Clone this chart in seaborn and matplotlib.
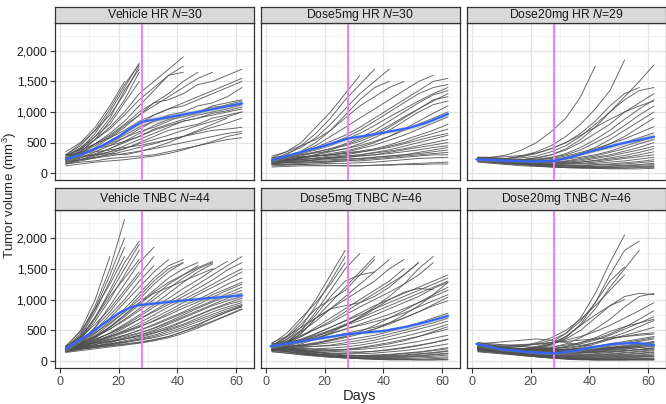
import numpy as np
import pandas as pd
import matplotlib
matplotlib.use('Agg')
import matplotlib.pyplot as plt
import seaborn as sns
from matplotlib.ticker import FuncFormatter, MultipleLocator

sns.set_style("white")
plt.rcParams['font.family'] = ['Liberation Sans', 'DejaVu Sans']
plt.rcParams['mathtext.fontset'] = 'custom'
plt.rcParams['mathtext.rm'] = 'Liberation Sans'
plt.rcParams['mathtext.it'] = 'Liberation Sans:italic'

# measurement days (every mouse starts at day 2, some stop early)
days = [2, 7, 12, 17, 22, 27, 32, 37, 42, 47, 52, 57, 62]

panel_titles = ['Vehicle HR', 'Dose5mg HR', 'Dose20mg HR',
                'Vehicle TNBC', 'Dose5mg TNBC', 'Dose20mg TNBC']
panel_n = [30, 30, 29, 44, 46, 46]

# one string per mouse, tumour volume in units of 10 mm3 on the days above
vehicle_hr = [
    "25 40 65 100 140 180",
    "30 45 70 95 130 175",
    "20 35 55 85 120 165",
    "28 42 60 90 135 170",
    "35 50 75 110 150",
    "22 38 60 80 115 150",
    "30 48 70 105 145 178",
    "25 35 55 75 100 130 150 170 190",
    "20 32 48 65 85 110 135 160 175",
    "28 40 55 72 95 120 140 160 165",
    "18 28 42 58 75 95 115 130 150 165",
    "22 33 45 60 78 95 110 125 140 155 165",
    "25 35 48 62 80 100 115 120 130 145 150 160 170",
    "20 28 38 50 65 80 95 105 115 125 135 145 155",
    "30 38 48 58 70 85 95 105 110 120 130 140 150",
    "18 25 35 45 58 72 85 95 100 110 115 125 140",
    "22 30 40 50 62 75 85 90 95 100 110 115 120",
    "15 22 30 40 52 65 78 88 92 98 105 112 118",
    "25 32 40 48 58 68 75 85 95 100 108 110 115",
    "20 25 32 40 50 60 72 80 88 95 100 105 112",
    "17 22 28 35 45 55 65 75 85 90 95 100 105",
    "28 34 40 45 52 60 70 78 85 90 98 102 108",
    "15 20 25 32 40 50 60 70 75 80 90 95 100",
    "22 26 30 35 40 48 55 62 70 78 85 92 100",
    "18 22 26 30 36 42 48 55 60 68 75 82 90",
    "30 32 35 38 42 45 50 55 60 65 70 72 75",
    "20 22 25 28 32 36 40 45 50 55 60 65 68",
    "15 18 20 24 26 28 30 35 40 45 50 55 58",
    "25 28 30 32 30 35 42 50 60 70 80 90",
    "12 15 18 20 22 25 28 32 38 45 52 60 65",
]

dose5_hr = [
    "25 35 50 75 100 130 160",
    "20 30 45 65 90 120 145 170",
    "22 32 42 58 80 105 130 150 170",
    "28 35 45 55 70 90 110 125 140 150",
    "20 25 35 45 60 75 90 105 120 135 150 160",
    "18 24 32 42 52 62 75 90 105 120 135 150 155",
    "22 28 34 40 48 58 70 85 100 115 130 140 145",
    "25 28 32 38 45 55 65 78 92 105 118 130 140",
    "20 24 28 34 40 48 58 70 85 100 115 128 135",
    "15 20 25 30 38 46 55 65 78 92 105 118 130",
    "22 26 30 35 40 45 52 62 75 90 105 120 125",
    "18 22 26 30 35 40 48 58 70 85 100 112 118",
    "25 28 30 33 36 40 45 52 60 72 85 98 110",
    "20 22 25 28 32 36 42 50 60 70 80 90 100",
    "16 20 24 28 30 34 40 46 54 62 72 82 92",
    "22 24 26 28 30 33 36 40 46 54 62 70 80",
    "18 20 22 25 28 30 34 38 44 50 58 65 72",
    "25 26 27 28 30 32 35 38 42 48 54 60 65",
    "15 17 19 22 25 28 30 34 38 44 50 56 62",
    "20 21 22 24 26 28 30 33 36 40 45 50 55",
    "18 19 20 22 24 25 28 30 34 38 42 46 50",
    "22 22 23 24 25 26 28 30 32 35 38 42 45",
    "16 17 18 19 20 22 24 26 28 30 34 38 42",
    "20 20 20 21 22 23 24 26 28 30 32 35 38",
    "14 15 16 17 18 20 22 24 26 28 30 32 34",
    "18 18 18 18 19 20 20 22 24 26 28 30 30",
    "12 13 14 15 16 16 17 18 20 22 24 25 26",
    "15 14 14 13 13 12 12 13 14 15 16 17 18",
    "10 11 12 12 12 12 12 13 13 14 14 15 15",
    "20 26 36 50 70 95 120 140 150",
]

dose20_hr = [
    "25 26 30 38 50 68 90 125 175",
    "22 22 24 28 35 45 60 80 105 135 185",
    "24 23 22 22 25 30 40 55 75 100 125 150 177",
    "26 25 24 25 28 35 45 60 80 100 120 135 140",
    "20 20 20 22 25 30 38 50 65 80 100 115 130",
    "23 22 21 21 22 25 32 42 55 70 88 105 120",
    "25 24 22 22 23 26 30 38 50 62 78 95 110",
    "21 20 19 19 20 22 26 32 42 55 70 85 100",
    "24 22 20 19 19 21 24 30 38 48 60 75 90",
    "22 21 20 20 21 24 28 34 40 48 56 66 76",
    "20 19 18 17 18 20 24 30 36 42 50 58 66",
    "25 23 21 20 20 21 23 26 30 36 44 52 60",
    "22 20 18 17 17 18 20 24 28 34 40 48 55",
    "19 18 17 16 16 17 19 22 26 30 36 42 50",
    "23 21 19 18 17 17 18 20 24 28 33 38 44",
    "21 19 17 16 15 15 16 18 21 25 29 34 40",
    "26 24 22 20 18 17 17 18 20 23 26 30 35",
    "20 18 16 15 14 14 15 16 18 21 24 27 30",
    "24 22 20 18 16 15 15 15 16 18 20 23 26",
    "22 20 18 16 15 14 13 13 14 15 17 19 22",
    "19 17 15 14 13 12 12 12 13 14 15 17 19",
    "23 21 19 17 15 13 12 11 11 12 13 14 16",
    "20 18 16 14 12 11 10 10 10 11 12 13 14",
    "25 22 19 17 15 13 12 11 10 10 10 11 12",
    "18 16 14 12 11 10 9 9 9 9 10 10 11",
    "22 19 16 14 12 10 9 8 8 8 8 9 9",
    "24 21 18 15 13 11 10 9 8 7 7 7 8",
    "21 22 24 27 32 40 50 62 75 88 100 110 118",
    "26 26 27 29 33 40 50 65 85 110 130 140",
]

vehicle_tnbc = [
    "20 45 90 150 230",
    "18 40 80 130 185",
    "22 50 100 170",
    "20 42 85 140 200",
    "15 35 70 115 160 195",
    "25 48 85 125 170",
    "18 38 72 110 150 190",
    "20 35 65 100 140 180",
    "22 40 70 105 135 165",
    "16 30 55 90 125 160 185",
    "20 32 55 80 110 140 170",
    "24 38 60 85 115 145",
    "18 30 50 75 100 130 155",
    "20 30 48 70 95 120 145 165",
    "15 28 45 65 85 110 135 155 165",
    "22 32 46 62 80 100 125 145 160",
    "18 26 40 56 75 95 115 135 150 160",
    "20 28 38 52 68 85 105 125 140 155",
    "24 30 40 52 66 82 100 118 135 150 160",
    "16 24 34 46 60 75 92 110 128 145 158",
    "20 26 35 45 58 72 88 102 118 132 148 162",
    "18 24 32 42 54 68 82 96 110 125 140 155 170",
    "22 28 36 45 56 68 80 92 105 118 132 148 160",
    "15 22 30 40 50 62 75 88 100 112 125 138 150",
    "20 25 32 40 48 58 70 82 95 108 120 132 145",
    "18 23 30 38 46 55 66 78 90 100 112 125 135",
    "24 28 34 40 48 56 65 75 86 96 108 118 128",
    "16 21 27 34 42 50 60 70 80 92 104 115 125",
    "20 24 30 36 42 50 58 68 78 88 98 110 120",
    "18 22 27 32 38 45 54 64 75 86 96 106 115",
    "22 26 30 35 40 46 53 62 72 82 92 102 110",
    "15 19 24 30 36 42 50 60 70 80 90 98 105",
    "20 23 27 31 36 42 48 56 65 75 85 94 102",
    "17 20 24 28 33 38 45 54 64 74 84 92 98",
    "23 26 29 32 36 40 46 52 60 70 80 88 95",
    "19 21 24 27 31 36 42 50 58 67 76 85 92",
    "16 19 22 26 30 35 40 47 55 64 73 82 90",
    "21 23 25 28 31 34 38 44 52 60 70 80 88",
    "18 20 22 25 28 31 35 40 48 56 65 75 85",
    "14 17 20 23 26 29 33 38 45 54 64 74 84",
    "20 21 23 25 27 30 34 40 48 58 70 80 90",
    "25 30 40 55 75 95 110 120 130 140 150",
    "20 28 42 60 80 105 130 150 160",
    "17 25 38 55 72 92 112 128 140 152 162",
]

dose5_tnbc = [
    "25 40 65 100 140 180",
    "22 35 55 90 130 170",
    "28 45 70 95 125 160",
    "20 30 50 80 115 150 175",
    "25 38 60 85 100 115 140 165",
    "18 28 45 70 95 120 145 170",
    "22 32 48 65 85 105 125 145 165",
    "30 40 55 70 85 100 115 130 150 165",
    "20 28 40 55 70 85 100 115 130 150",
    "24 30 40 52 65 80 95 110 125 140 160",
    "26 32 42 52 62 75 88 100 112 125 140 160",
    "20 26 34 44 55 66 78 90 100 110 120 130 140",
    "22 28 36 45 55 65 75 85 95 105 115 125 135",
    "18 24 32 40 50 60 70 80 90 100 110 120 130",
    "25 30 35 42 50 58 66 75 85 95 105 118 128",
    "20 25 30 36 44 52 60 68 76 85 95 105 115",
    "23 27 32 38 45 52 58 64 70 78 88 98 108",
    "17 20 24 28 34 40 48 58 70 82 95 108 120",
    "28 30 33 36 40 45 50 55 62 70 80 92 104",
    "21 23 26 30 35 40 46 52 60 70 80 90 98",
    "24 24 25 27 30 34 38 42 48 55 62 70 78",
    "19 20 22 24 26 30 34 38 44 50 56 62 70",
    "26 25 24 24 25 27 30 34 40 46 52 58 65",
    "22 21 20 20 21 23 26 30 35 40 46 52 60",
    "18 17 16 16 17 19 22 26 30 35 40 46 52",
    "25 23 21 19 18 18 19 21 24 28 32 37 42",
    "20 18 16 14 13 13 14 16 19 22 26 30 35",
    "23 20 17 15 13 12 12 13 15 17 20 24 28",
    "17 15 13 11 10 9 9 10 11 13 15 18 22",
    "21 18 15 12 10 9 8 8 9 10 12 14 17",
    "25 21 17 14 11 9 8 7 7 8 9 11 13",
    "19 16 13 10 8 6 5 5 5 6 7 8 10",
    "22 18 14 11 8 6 4 4 4 4 5 6 7",
    "16 13 10 8 6 5 4 3 3 3 3 4 5",
    "24 20 16 12 9 7 5 4 3 3 2 2 3",
    "20 16 12 9 7 5 4 3 2 2 2 2 2",
    "18 15 12 10 8 7 6 6 6 7 8 10 12",
    "26 22 18 15 12 10 9 9 10 12 14 17 20",
    "15 13 11 9 8 7 7 7 8 9 11 13 16",
    "23 21 19 17 16 15 15 16 18 21 25 30 36",
    "20 19 18 18 18 19 21 24 28 33 40 48 56",
    "28 30 34 40 48 58 70 85 100 112 118 116",
    "22 30 45 70 85 90 95 105 120 140 160",
    "26 35 50 75 105 130 140 145",
    "18 22 28 36 46 58 72 88 105 125 150 170",
    "21 23 26 29 33 38 44 52 62 75 90 108 128",
]

dose20_tnbc = [
    "25 22 20 20 24 30 45 70 110 160 205",
    "22 20 18 18 20 26 38 60 95 140 180 195",
    "20 18 17 18 22 28 40 58 85 120 150 180",
    "28 25 24 25 28 34 45 65 95 130 153",
    "24 22 22 24 30 38 50 68 90 115 140",
    "24 22 20 20 22 27 36 50 70 90 105 110 108",
    "20 19 18 18 19 22 28 38 52 68 88 105 110",
    "23 21 19 18 18 20 24 30 38 48 56 62 68",
    "26 23 20 18 17 18 20 24 30 38 46 56 66",
    "20 18 16 15 15 16 18 22 28 35 42 48 55",
    "24 22 20 19 19 20 22 25 30 36 40 44 46",
    "22 21 20 20 22 28 40 58 75 90 100",
    "27 24 21 19 18 18 19 21 24 28 32 36 40",
    "22 20 18 16 15 15 16 18 20 24 28 32 36",
    "30 26 22 19 17 16 16 17 19 22 25 28 32",
    "20 18 16 14 13 13 14 15 17 20 23 26 30",
    "25 22 19 16 14 13 13 14 16 18 21 24 27",
    "18 16 14 13 12 12 12 13 15 17 19 22 25",
    "28 24 20 17 14 12 11 11 12 14 16 19 22",
    "21 19 17 15 13 11 10 10 11 12 14 16 19",
    "24 21 18 15 12 10 9 9 10 11 13 15 17",
    "19 17 15 13 11 9 8 8 9 10 11 13 15",
    "26 22 18 15 12 9 8 7 8 9 10 12 14",
    "17 15 13 11 9 8 7 7 7 8 9 10 12",
    "23 20 16 13 10 8 6 6 6 7 8 9 10",
    "20 17 14 11 9 7 6 5 5 6 7 8 9",
    "25 21 17 13 10 7 5 4 4 5 6 7 8",
    "16 14 12 10 8 6 5 4 4 4 5 6 7",
    "22 18 14 11 8 6 4 3 3 3 4 4 5",
    "19 15 12 9 7 5 4 3 3 3 3 3 4",
    "27 22 17 13 9 6 4 3 2 2 2 3 3",
    "15 13 11 9 7 5 4 3 2 2 2 2 2",
    "21 17 13 10 7 5 3 2 2 2 2 2 2",
    "24 20 16 12 9 6 4 3 3 3 3 3 3",
    "18 17 16 15 14 13 13 13 14 15 17 19 21",
    "30 28 26 24 22 20 19 19 20 22 25 28 31",
    "23 22 21 20 19 18 18 18 19 21 24 27 30",
    "20 19 18 17 17 17 18 20 23 26 30 34 38",
    "26 26 26 27 28 30 32 34 36 38 40 42 44",
    "28 30 32 34 36 34 30 26 24 22 22 24 26",
    "17 16 15 14 14 14 15 16 18 20 22 25 28",
    "24 23 22 21 20 19 18 18 18 19 20 22 24",
    "21 20 19 18 17 16 15 15 15 16 17 18 20",
    "25 24 24 25 27 30 34 40 48 58 70 82 95",
    "22 21 20 20 21 23 26 30 36 44 55 68 82",
    "19 18 17 17 18 20 23 28 34 42 52 62 72",
]

panel_mice = [vehicle_hr, dose5_hr, dose20_hr, vehicle_tnbc, dose5_tnbc, dose20_tnbc]

# smooth (blue) curve and its band half-width
fit_days = [
    [2, 8, 14, 20, 24, 28, 35, 41, 52, 62],
    [2, 10, 20, 28, 35, 42, 49, 55, 62],
    [1.5, 10, 20, 28, 34, 40, 50, 62],
    [2, 8, 14, 20, 24, 27, 28, 40, 50, 62],
    [1.5, 10, 20, 28, 40, 48, 55, 62],
    [1.5, 10, 20, 28, 34, 40, 48, 56, 62],
]
fit_volume = [
    [225, 320, 440, 600, 730, 840, 900, 950, 1045, 1140],
    [213, 320, 450, 568, 620, 680, 743, 830, 967],
    [225, 208, 190, 200, 265, 350, 475, 595],
    [200, 380, 580, 778, 870, 911, 915, 975, 1020, 1067],
    [241, 305, 380, 440, 490, 560, 640, 735],
    [280, 190, 145, 124, 160, 215, 280, 296, 257],
]
fit_band = [
    [45, 30, 30, 35, 40, 50, 55, 45, 40, 60],
    [40, 25, 25, 30, 30, 30, 35, 40, 55],
    [35, 20, 20, 25, 25, 30, 35, 55],
    [45, 30, 30, 40, 45, 50, 45, 40, 40, 60],
    [35, 20, 20, 25, 25, 30, 35, 50],
    [35, 20, 20, 20, 25, 25, 30, 35, 50],
]

# long table: one row per measurement
rows = []
for p, mice in enumerate(panel_mice):
    for m, s in enumerate(mice):
        vals = [int(v) * 10 for v in s.split()]
        for d, v in zip(days, vals):
            rows.append((p, m, d, v))
df = pd.DataFrame(rows, columns=['panel', 'mouse', 'day', 'volume'])

W, H = 666, 404
fig = plt.figure(figsize=(W / 100, H / 100), dpi=100)

col_left = [55, 261, 467]
panel_w = 199
row_top = [23, 210]
row_bottom = [180, 368]
strip_top = [7, 188]

def rect(x0, y0, x1, y1):
    return [x0 / W, 1 - y1 / H, (x1 - x0) / W, (y1 - y0) / H]

for p in range(6):
    r, c = divmod(p, 3)
    x0 = col_left[c]
    ax = fig.add_axes(rect(x0, row_top[r], x0 + panel_w, row_bottom[r]))
    sub = df[df['panel'] == p]
    sns.lineplot(data=sub, x='day', y='volume', units='mouse', estimator=None,
                 color='#505050', lw=0.65, alpha=0.9, ax=ax, legend=False)
    ax.axvline(28, color='#EE82EE', lw=1.5, zorder=3)
    fd = np.array(fit_days[p])
    fv = np.array(fit_volume[p])
    fb = np.array(fit_band[p])
    ax.fill_between(fd, fv - fb, fv + fb, color='#999999', alpha=0.4, lw=0, zorder=4)
    sns.lineplot(x=fd, y=fv, color='#3366FF', lw=1.6, ax=ax, zorder=5)

    ax.set_xlim(-1.7, 66.1)
    ax.set_ylim(-112, 2455)
    ax.xaxis.set_major_locator(MultipleLocator(20))
    ax.xaxis.set_minor_locator(MultipleLocator(10))
    ax.yaxis.set_major_locator(MultipleLocator(500))
    ax.yaxis.set_minor_locator(MultipleLocator(250))
    ax.grid(which='major', color='#E3E3E3', lw=0.9)
    ax.grid(which='minor', color='#F1F1F1', lw=0.6)
    ax.set_axisbelow(True)
    ax.set_facecolor('white')
    for sp in ax.spines.values():
        sp.set_color('#333333')
        sp.set_linewidth(0.9)
    ax.set_xlabel('')
    ax.set_ylabel('')
    ax.yaxis.set_major_formatter(FuncFormatter(lambda v, pos: f'{int(v):,}'))
    ax.tick_params(which='minor', length=0)
    ax.tick_params(axis='x', which='major', length=3.5, width=0.8, color='#333333',
                   labelsize=9, labelcolor='#4D4D4D', pad=2, bottom=(r == 1), labelbottom=(r == 1))
    ax.tick_params(axis='y', which='major', length=3.5, width=0.8, color='#333333',
                   labelsize=8.8, labelcolor='#1A1A1A', pad=2, left=(c == 0), labelleft=(c == 0))

    sax = fig.add_axes(rect(x0, strip_top[r], x0 + panel_w, row_top[r]))
    sax.set_facecolor('#D9D9D9')
    sax.set_xticks([])
    sax.set_yticks([])
    for sp in sax.spines.values():
        sp.set_color('#333333')
        sp.set_linewidth(0.9)
    sax.text(0.5, 0.5, f'{panel_titles[p]} $N$={panel_n[p]}', ha='center', va='center',
             fontsize=8.8, color='#1A1A1A', transform=sax.transAxes)

fig.text(360 / W, 1 - 396 / H, 'Days', ha='center', va='center', fontsize=10.5)
fig.text(9.5 / W, 1 - 195 / H, 'Tumor volume (mm$^3$)', ha='center', va='center',
         rotation=90, fontsize=9.6)

fig.savefig('out.png', dpi=100)
